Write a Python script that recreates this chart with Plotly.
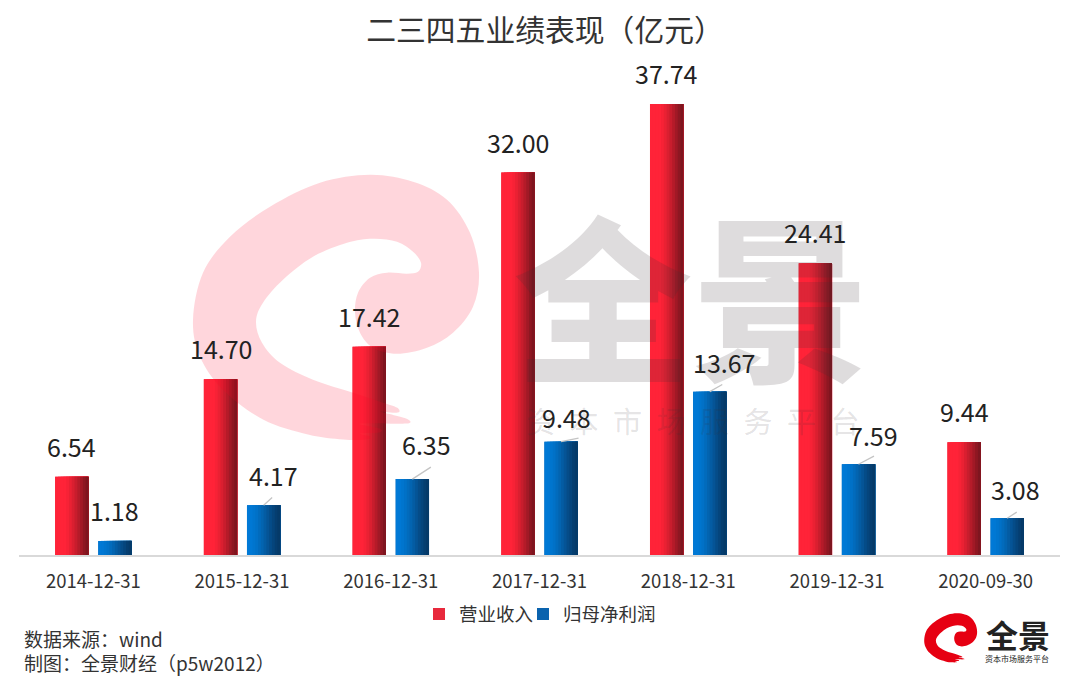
import plotly.graph_objects as go

FONT = "Noto Sans CJK SC"

# data
dates = ["2014-12-31", "2015-12-31", "2016-12-31", "2017-12-31", "2018-12-31", "2019-12-31", "2020-09-30"]
revenue = [6.54, 14.70, 17.42, 32.00, 37.74, 24.41, 9.44]
net_profit = [1.18, 4.17, 6.35, 9.48, 13.67, 7.59, 3.08]

# blue label placement in px from bar top centre (label dx, label dy, leader end dx, leader end dy)
blue_label_dx = [0, 10, 14, 5, 14, 15, 8]
blue_label_dy = [31, 30, 35, 25, 30, 29, 29]
leader_dx = [0, 10, 20, 19, 14, 17, 11]
leader_dy = [0, -9, -13, -4, -8, -9, -7]

# left to right colours of the fake cylinder gradient
red_shades = ["#ff2338", "#ff2338", "#ff2338", "#ff2338", "#f72236", "#ea2133", "#da1f30",
              "#c81d2d", "#b51b29", "#a11926", "#8e1722", "#7e151f"]
blue_shades = ["#0079d6", "#0078d4", "#0075ce", "#0171c7", "#026bbc", "#0364b0", "#045ca3",
               "#055496", "#054c88", "#05457c", "#053e70", "#053a68"]

# swirl outline, px on the 1080x684 page
swirl_pts = [(366, 440), (343, 440), (308, 435), (263, 420), (223, 390), (200, 357), (193, 320),
             (203, 273), (230, 237), (270, 207), (320, 183), (370, 175), (413, 182), (447, 200),
             (470, 233), (479, 273), (473, 307), (453, 333), (427, 348), (397, 354), (373, 348),
             (360, 333), (355, 313), (358, 293), (370, 278), (387, 273), (407, 274), (418, 272),
             (421, 263), (413, 252), (397, 242), (373, 239), (347, 243), (313, 257), (283, 280),
             (263, 303), (256, 322), (262, 343), (280, 363), (313, 380), (353, 393), (383, 403),
             (397, 408), (398, 413), (380, 412), (406, 419), (406, 424), (360, 424), (380, 429),
             (379, 433), (360, 434), (370, 437)]

# plot area on the page (the page has an 8px body margin)
PAGE_OFF = 8
PLOT_L, PLOT_R, PLOT_T, PLOT_B = 19, 1060, 77.1, 555.5


def px(x):
    return (x - PLOT_L) / (PLOT_R - PLOT_L)


def py(y):
    return 1 - (y - PLOT_T) / (PLOT_B - PLOT_T)


def swirl_path(scale=1.0, dx=0.0, dy=0.0):
    # catmull-rom through the points, written as a paper-coordinate svg path
    pts = [(px(x * scale + dx), py(y * scale + dy)) for x, y in swirl_pts]
    n = len(pts)
    d = f"M{pts[0][0]:.5f},{pts[0][1]:.5f}"
    for i in range(n):
        p0, p1, p2, p3 = pts[i - 1], pts[i], pts[(i + 1) % n], pts[(i + 2) % n]
        c1 = (p1[0] + (p2[0] - p0[0]) / 6, p1[1] + (p2[1] - p0[1]) / 6)
        c2 = (p2[0] - (p3[0] - p1[0]) / 6, p2[1] - (p3[1] - p1[1]) / 6)
        d += f"C{c1[0]:.5f},{c1[1]:.5f} {c2[0]:.5f},{c2[1]:.5f} {p2[0]:.5f},{p2[1]:.5f}"
    return d + "Z"


def page_text(text, x, y, size, color, xanchor="center", weight=400):
    # text placed by page pixels
    return dict(text=text, xref="paper", yref="paper", x=px(x), y=py(y), xanchor=xanchor, yanchor="middle",
                showarrow=False, font=dict(family=FONT, size=size, color=color, weight=weight))


def legend_box(x):
    # one legend per series so the two entries can sit close together
    return dict(orientation="h", x=px(x), y=py(615), xanchor="left", yanchor="middle",
                bgcolor="rgba(0,0,0,0)",
                font=dict(family=FONT, size=18.5, color="#333333"), itemclick=False, itemdoubleclick=False)


fig = go.Figure()

bar_w = 0.224
red_start = -0.257
blue_start = 0.033


def add_bars(name, values, start, shades, legend_color, legend_id):
    # full bar for the legend, then narrower ones on top for the gradient
    fig.add_trace(go.Bar(x=dates, y=values, name=name, width=bar_w, offset=start, legend=legend_id,
                         showlegend=True, marker=dict(color=legend_color, line_width=0)))
    for k, shade in enumerate(shades):
        step = bar_w / len(shades)
        fig.add_trace(go.Bar(x=dates, y=values, width=bar_w - k * step, offset=start + k * step,
                             marker=dict(color=shade, line_width=0), showlegend=False, hoverinfo="skip"))


add_bars("营业收入", revenue, red_start, red_shades, "#e8293c", "legend")
add_bars("归母净利润", net_profit, blue_start, blue_shades, "#0a63ae", "legend2")

annotations = [
    page_text("全景", 692, 292, 178, "rgba(60,50,55,0.17)", weight=900),
    page_text("资\u2002本\u2002市\u2002场\u2002服\u2002务\u2002平\u2002台", 693, 420, 29, "rgba(60,50,55,0.15)"),
]

for i, v in enumerate(revenue):
    annotations.append(dict(text=f"{v:.2f}", x=i + red_start + bar_w / 2, y=v, yshift=31, showarrow=False,
                            font=dict(family=FONT, size=25, color="#222222")))
for i, v in enumerate(net_profit):
    bx = i + blue_start + bar_w / 2
    annotations.append(dict(text=f"{v:.2f}", x=bx, y=v, xshift=blue_label_dx[i], yshift=blue_label_dy[i],
                            showarrow=False, font=dict(family=FONT, size=25, color="#222222")))
    if leader_dx[i]:
        annotations.append(dict(text="", x=bx, y=v, ax=leader_dx[i], ay=leader_dy[i], showarrow=True,
                                arrowhead=0, arrowwidth=1.3, arrowcolor="#c4c4c4", standoff=0))

# source notes and the corner logo text
annotations += [
    page_text("数据来源：wind", 22, 639, 19, "#333333", xanchor="left"),
    page_text("制图：全景财经（p5w2012）", 22, 663, 19, "#333333", xanchor="left"),
    page_text("全景", 1018, 635, 32, "#222222", weight=700),
    page_text("资本市场服务平台", 1017, 659, 8, "#222222"),
]

shapes = [
    dict(type="path", xref="paper", yref="paper", path=swirl_path(), layer="above",
         fillcolor="rgba(255,0,40,0.16)", line_width=0),
    dict(type="path", xref="paper", yref="paper", path=swirl_path(0.185, 888.5, 581.5), layer="above",
         fillcolor="#e60012", line_width=0),
]

fig.update_layout(
    width=1080 - PAGE_OFF,
    height=684 - PAGE_OFF,
    margin=dict(l=PLOT_L - PAGE_OFF, r=1080 - PLOT_R, t=PLOT_T - PAGE_OFF, b=684 - PLOT_B),
    paper_bgcolor="white",
    plot_bgcolor="white",
    barmode="overlay",
    title=dict(text="二三四五业绩表现（亿元）", x=(545 - PAGE_OFF) / 1072, y=1 - (31 - PAGE_OFF) / 676,
               xanchor="center", yanchor="middle",
               font=dict(family=FONT, size=29.8, color="#333333")),
    legend=legend_box(419),
    legend2=legend_box(523),
    annotations=annotations,
    shapes=shapes,
)
fig.update_xaxes(type="category", showgrid=False, showline=True, linecolor="#d9d9d9", linewidth=2,
                 ticks="outside", ticklen=9, tickcolor="rgba(0,0,0,0)",
                 tickfont=dict(family=FONT, size=18.5, color="#333333"))
fig.update_yaxes(range=[0, 40], visible=False, showgrid=False)

fig.write_html("out.html")
